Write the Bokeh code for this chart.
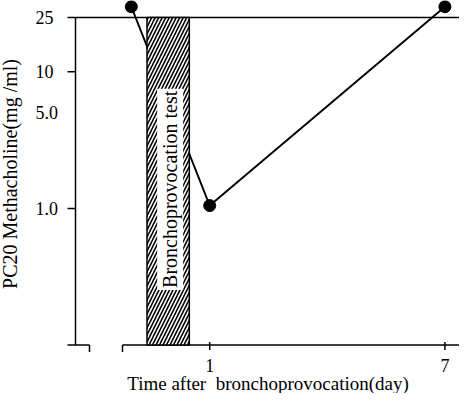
import math
from bokeh.plotting import figure
from bokeh.models import Range1d
from bokeh.core.properties import value
from bokeh.embed import file_html
from bokeh.resources import INLINE

# ---- data ----
days = [-1, 1, 7]
pc20 = [30, 1.05, 30]
y_tick_values = [25, 10, 5, 1]
y_tick_labels = ["25", "10", "5.0", "1.0"]
y_tick_marks = [10, 1]
x_tick_values = [1, 7]
x_tick_labels = ["1", "7"]
test_start = -0.6
test_end = 0.48
test_label_y = 1.38
test_label = "Bronchoprovocation test"
y_axis_top = 25
y_axis_bottom = 0.1
x_title = "Time after\u00a0 bronchoprovocation(day)"
y_title = "PC20 Methacholine(mg /ml)"

# ---- geometry ----
W, H = 459, 393
X0, X1 = -4.337, 7.372
Y0, Y1 = 0.0442, 33.3
LY0, LY1 = math.log10(Y0), math.log10(Y1)


def px_x(page_x):
    return X0 + (page_x - 8) / W * (X1 - X0)


def px_y(page_y):
    return 10 ** (LY1 - (page_y - 8) / H * (LY1 - LY0))


def dx(n):
    return n * (X1 - X0) / W


def ymul(n):
    return 10 ** (n * (LY1 - LY0) / H)


FONT = value("Liberation Serif")

p = figure(width=W, height=H, x_range=Range1d(X0, X1), y_range=Range1d(Y0, Y1),
           y_axis_type="log", output_backend="svg", toolbar_location=None,
           min_border=0, min_border_left=0, min_border_right=0,
           min_border_top=0, min_border_bottom=0)
p.xaxis.visible = False
p.yaxis.visible = False
p.xgrid.visible = False
p.ygrid.visible = False
p.outline_line_color = None
p.background_fill_color = "white"
p.border_fill_color = "white"

y_axis_x = px_x(83)
tick = dx(8)
LW = 1.5

# data line (behind bar)
p.line(days, pc20, line_color="black", line_width=1.9)

# top reference line at 25
p.segment(x0=[y_axis_x - tick], y0=[y_axis_top], x1=[X1], y1=[y_axis_top],
          line_color="black", line_width=LW)
# y axis
p.segment(x0=[y_axis_x], y0=[y_axis_bottom], x1=[y_axis_x], y1=[y_axis_top],
          line_color="black", line_width=LW)
# y ticks
p.segment(x0=[y_axis_x - tick] * len(y_tick_marks), y0=y_tick_marks,
          x1=[y_axis_x] * len(y_tick_marks), y1=y_tick_marks,
          line_color="black", line_width=LW)

# broken x axis
seg1_end = px_x(97)
seg2_start = px_x(130)
p.segment(x0=[y_axis_x - tick, seg2_start], y0=[y_axis_bottom] * 2,
          x1=[seg1_end, X1], y1=[y_axis_bottom] * 2,
          line_color="black", line_width=LW)
down = y_axis_bottom / ymul(7)
p.segment(x0=[seg1_end, seg2_start], y0=[y_axis_bottom] * 2,
          x1=[seg1_end, seg2_start], y1=[down] * 2,
          line_color="black", line_width=LW)
# x ticks
p.segment(x0=x_tick_values, y0=[y_axis_bottom * ymul(3)] * len(x_tick_values),
          x1=x_tick_values, y1=[y_axis_bottom / ymul(5)] * len(x_tick_values),
          line_color="black", line_width=LW)

# hatched bar
p.quad(left=[test_start], right=[test_end], bottom=[y_axis_bottom], top=[y_axis_top],
       fill_color="white", line_color="black", line_width=LW,
       hatch_pattern="/", hatch_color="black", hatch_scale=7, hatch_weight=1.6)

# bar label
p.text(x=[(test_start + test_end) / 2 + dx(2)], y=[test_label_y], text=[test_label],
       angle=math.pi / 2, text_align="center", text_baseline="middle",
       text_font=FONT, text_font_size="20px", text_color="black",
       background_fill_color="white", padding=2)

# markers
p.scatter(days, pc20, size=12, color="black")

# tick labels
p.text(x=[px_x(43)] * len(y_tick_values), y=y_tick_values, text=y_tick_labels,
       text_align="left", text_baseline="middle", text_font=FONT,
       text_font_size="18px", text_color="black")
p.text(x=x_tick_values, y=[px_y(373)] * len(x_tick_values), text=x_tick_labels,
       text_align="center", text_baseline="middle", text_font=FONT,
       text_font_size="18px", text_color="black")

# axis titles
p.text(x=[px_x(275.5)], y=[px_y(391)], text=[x_title], text_align="center",
       text_baseline="middle", text_font=FONT, text_font_size="19px",
       text_color="black")
p.text(x=[px_x(17)], y=[px_y(181.5)], text=[y_title], angle=math.pi / 2,
       text_align="center", text_baseline="middle", text_font=FONT,
       text_font_size="20px", text_color="black")

open("out.html", "w").write(file_html(p, INLINE))
